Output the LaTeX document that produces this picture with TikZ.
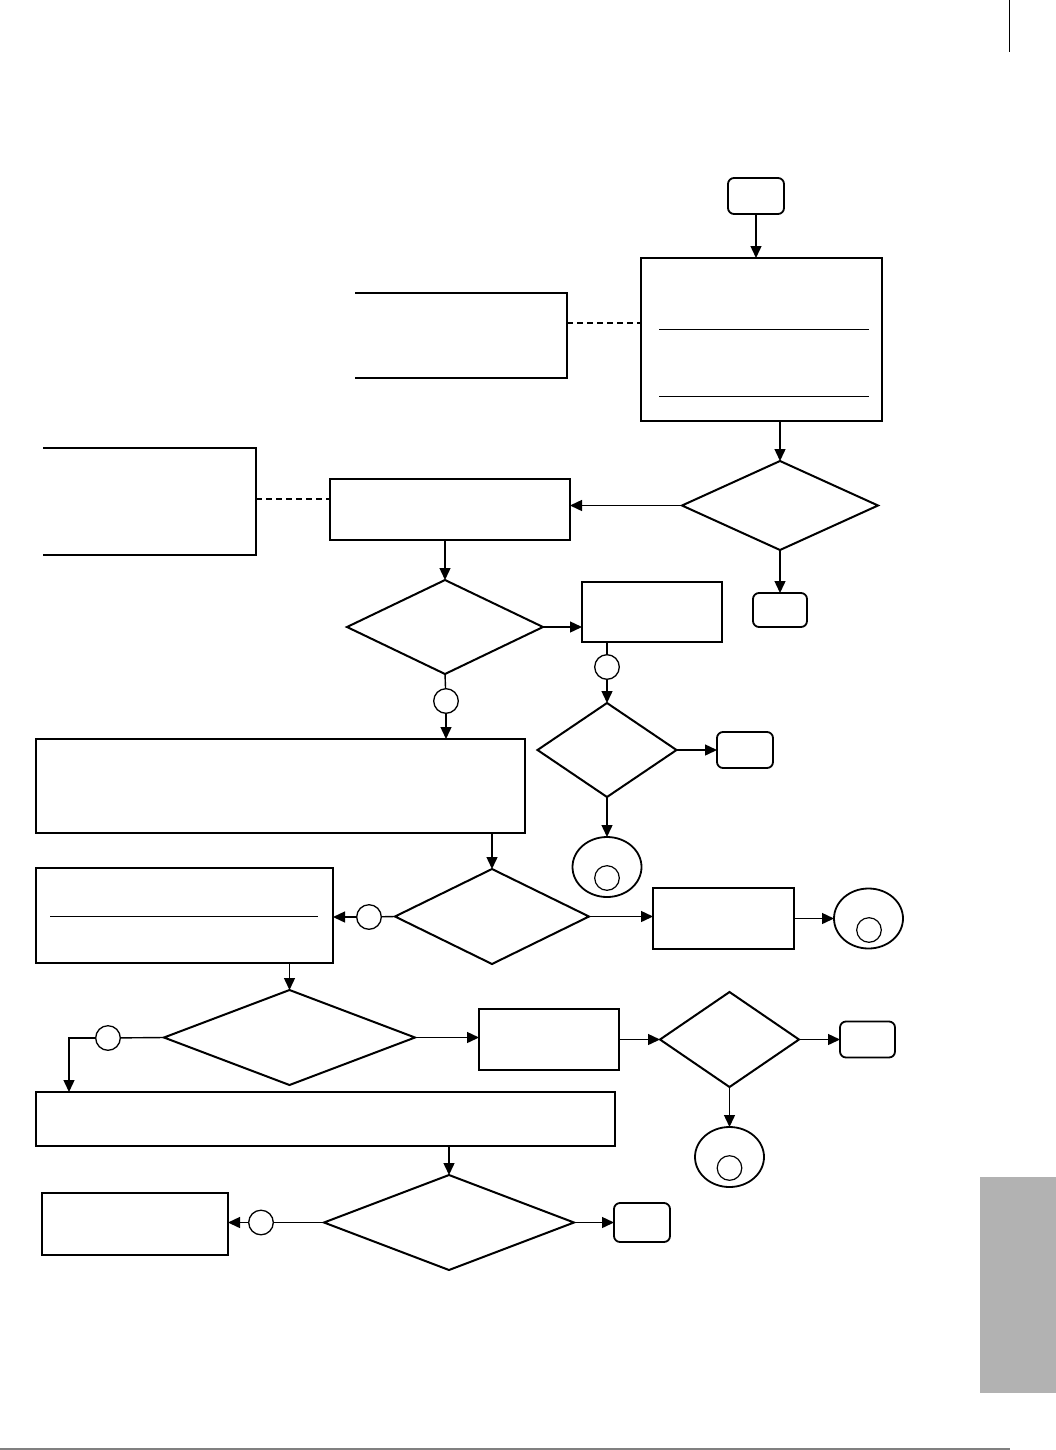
\documentclass[tikz,border=0pt]{standalone}
\definecolor{tabgrey}{RGB}{178,178,178}
\definecolor{rulegrey}{RGB}{128,128,128}
\usepackage{tikz}
\usetikzlibrary{arrows.meta}
\usetikzlibrary{shapes.geometric}
\begin{document}
\begin{tikzpicture}[%
            x=1pt,
            y=-1pt,
            flow/.style={-{Triangle[length=12pt,width=11pt]},line width=1.4pt},
            link/.style={line width=1.4pt},
            note link/.style={dashed,dash pattern=on 6pt off 4pt,line width=1.8pt},
            task/.style={%
              draw,
              rectangle,
              line width=2.2pt,
              inner sep=0pt,
              outer sep=0pt,
            },
            terminal/.style={%
              draw,
              rectangle,
              rounded corners=6pt,
              line width=1.8pt,
              inner sep=0pt,
              outer sep=0pt,
            },
            decision/.style={%
              draw,
              diamond,
              line width=2pt,
              inner sep=0pt,
              outer sep=0pt,
            },
            joint/.style={%
              draw,
              circle,
              line width=1.3pt,
              minimum size=24.6pt,
              inner sep=0pt,
              outer sep=0pt,
            },
            offpage/.style={%
              draw,
              ellipse,
              line width=1.8pt,
              minimum width=69pt,
              minimum height=60pt,
              inner sep=0pt,
              outer sep=0pt,
            },
          ]
            \useasboundingbox (0,0) rectangle (1056,1450);

            \node [terminal,minimum width=56pt,minimum height=36pt] (start) at (756,196) {};
            \node [task,minimum width=241pt,minimum height=163pt] (setup) at (761.5,339.5) {};
            \draw [line width=1pt] (659,329) -- (869,329);
            \draw [line width=1pt] (659,396) -- (869,396);
            \draw [line width=2.2pt] (355,293) -- (567,293) -- (567,378) -- (355,378);
            \coordinate (setup note) at (567,323);
            \draw [note link] (setup note) -- (setup note -| setup.west);

            \node [decision,minimum width=196pt,minimum height=89pt] (check) at (780,505.5) {};
            \node [terminal,minimum width=54pt,minimum height=34pt] (check end) at (780,610) {};
            \node [task,minimum width=240pt,minimum height=61pt] (prepare) at (450,509.5) {};
            \draw [line width=2.2pt] (43,448) -- (256,448) -- (256,555) -- (43,555);
            \coordinate (prepare note) at (256,499);
            \draw [note link] (prepare note) -- (prepare note -| prepare.west);

            \node [decision,minimum width=196pt,minimum height=94pt] (select) at (445,627) {};
            \node [task,minimum width=140pt,minimum height=60pt] (retry) at (652,612) {};
            \node [joint] (retry joint) at (607,667) {};
            \node [decision,minimum width=139pt,minimum height=94pt] (retry check) at (607,750) {};
            \node [terminal,minimum width=56pt,minimum height=36pt] (retry end) at (745,750) {};
            \node [offpage] (retry page) at (607,867) {};
            \node [joint,line width=1.2pt] (retry page mark) at (607,878) {};

            \node [joint] (select joint) at (446,701) {};
            \node [task,minimum width=489pt,minimum height=94pt] (process) at (280.5,786) {};
            \node [decision,minimum width=194pt,minimum height=95pt] (result) at (492,916.5) {};
            \node [joint] (result joint) at (369,917) {};
            \node [task,minimum width=297pt,minimum height=95pt] (record) at (184.5,915.5) {};
            \draw [line width=1pt] (50,916) -- (318,916);
            \node [task,minimum width=141pt,minimum height=61pt] (report) at (723.5,918.5) {};
            \node [offpage] (report page) at (868.5,918.5) {};
            \node [joint,line width=1.2pt] (report page mark) at (869,930) {};

            \node [decision,minimum width=251pt,minimum height=95pt] (verify) at (289.5,1037.5) {};
            \node [joint] (verify joint) at (108,1038) {};
            \coordinate (verify bend) at (69,1038);
            \node [task,minimum width=140pt,minimum height=61pt] (repair) at (549,1039.5) {};
            \node [decision,minimum width=139pt,minimum height=95pt] (repair check) at (729.5,1039.5) {};
            \node [terminal,minimum width=55pt,minimum height=36pt] (repair end) at (867.5,1039.5) {};
            \node [offpage] (repair page) at (729.5,1157) {};
            \node [joint,line width=1.2pt] (repair page mark) at (729.5,1168) {};

            \node [task,minimum width=579pt,minimum height=54pt] (finish) at (325.5,1119) {};
            \node [decision,minimum width=250pt,minimum height=95pt] (final) at (449,1222.5) {};
            \node [joint] (final joint) at (261,1222.5) {};
            \node [task,minimum width=186pt,minimum height=62pt] (log) at (135,1224) {};
            \node [terminal,minimum width=56pt,minimum height=39pt] (final end) at (642,1222.5) {};

            \draw [flow] (start) -- (start |- setup.north);
            \draw [flow] (check.north |- setup.south) -- (check);
            \draw [flow] (check.west) -- (check.west -| prepare.east);
            \draw [flow] (check.south) -- (check end);
            \draw [flow] (select.north |- prepare.south) -- (select.north);
            \draw [flow] (select.east) -- (select.east -| retry.west);
            \draw [link] (retry joint.north |- retry.south) -- (retry joint);
            \draw [flow] (retry joint) -- (retry check.north);
            \draw [flow] (retry check.east) -- (retry end);
            \draw [flow] (retry check.south) -- (retry page);
            \draw [link] (select.south) -- (select joint);
            \draw [flow] (select joint) -- (select joint |- process.north);
            \draw [flow] (result.north |- process.south) -- (result.north);
            \draw [link] (result.west) -- (result joint);
            \draw [flow] (result joint) -- (result joint -| record.east);
            \draw [flow] (result.east) -- (result.east -| report.west);
            \draw [flow] (report) -- (report page);
            \draw [flow] (verify.north |- record.south) -- (verify.north);
            \draw [link] (verify.west) -- (verify joint);
            \draw [flow] (verify joint) -- (verify bend) -- (verify bend |- finish.north);
            \draw [flow] (verify.east) -- (verify.east -| repair.west);
            \draw [flow] (repair) -- (repair check.west);
            \draw [flow] (repair check.east) -- (repair end);
            \draw [flow] (repair check.south) -- (repair page);
            \draw [flow] (final.north |- finish.south) -- (final.north);
            \draw [link] (final.west) -- (final joint);
            \draw [flow] (final joint) -- (final joint -| log.east);
            \draw [flow] (final.east) -- (final end);

            \draw [line width=1.6pt] (1009.5,0) -- (1009.5,52);
            \fill [tabgrey] (980,1177) rectangle (1056,1393);
            \draw [rulegrey,line width=2pt] (0,1448.5) -- (1010,1448.5);
          \end{tikzpicture}
\end{document}
